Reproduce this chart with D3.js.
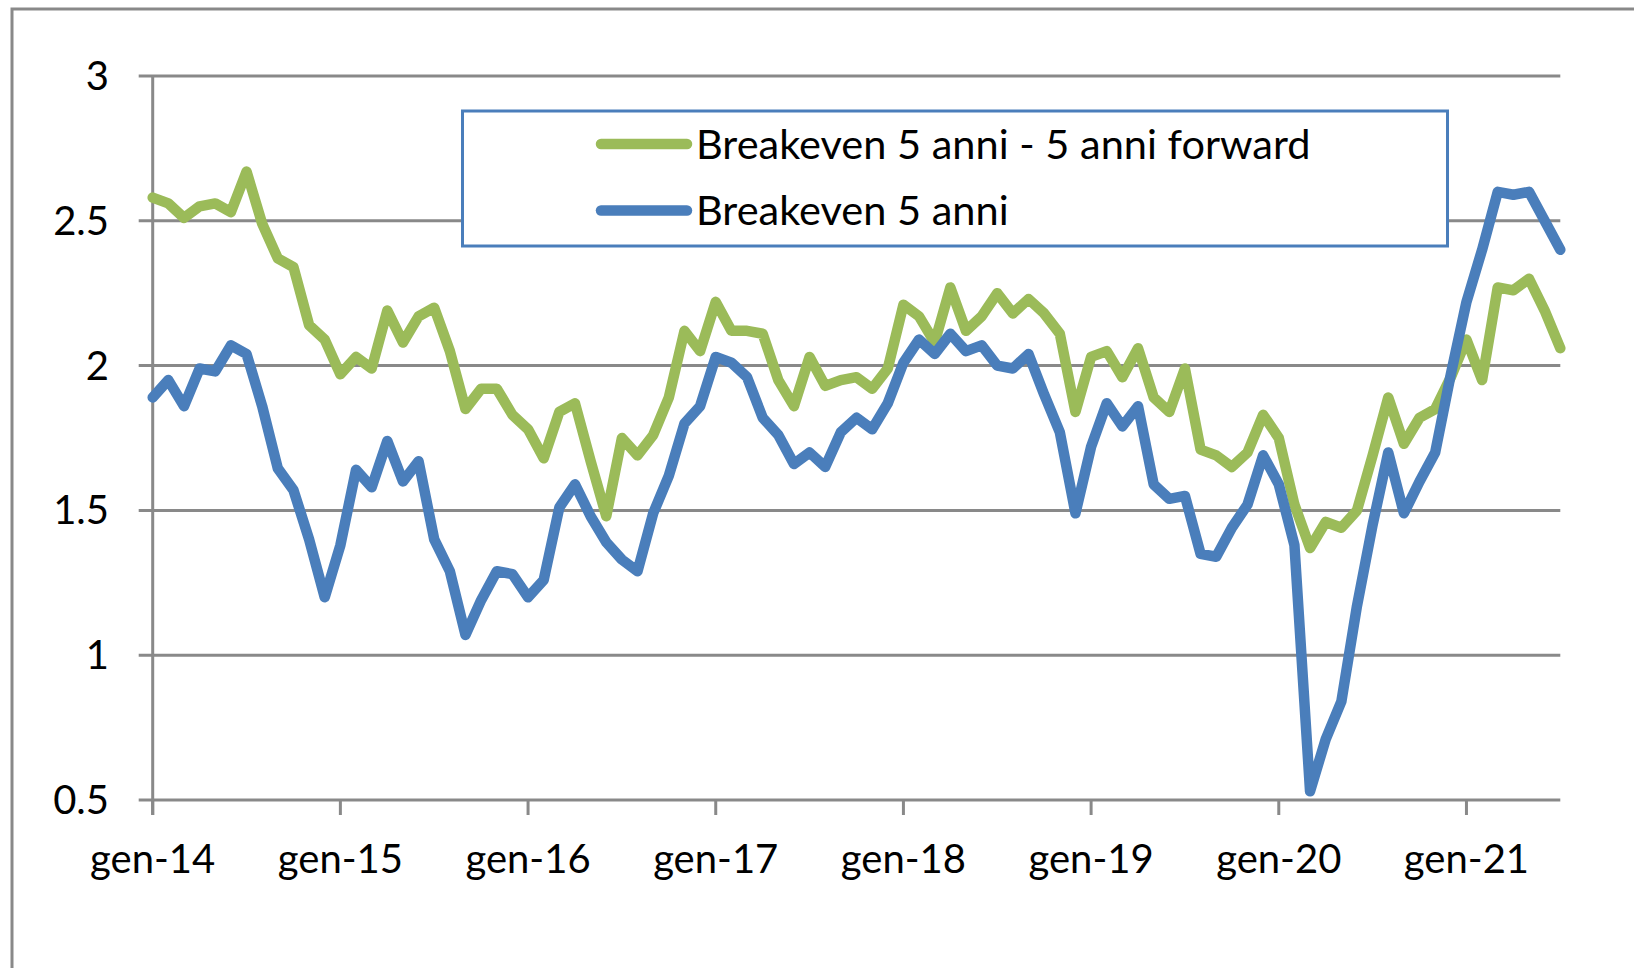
<!DOCTYPE html>
<html>
<head>
<meta charset="utf-8">
<script src="https://cdn.jsdelivr.net/npm/d3@7"></script>
<style>
  html, body { margin: 0; padding: 0; background: #fff; }
  svg { display: block; }
  text { font-family: Lato, "Open Sans", sans-serif; fill: #000; }
</style>
</head>
<body>
<svg id="chart" width="1634" height="968"></svg>
<script>
// ---- data ----
const startMonth = new Date(2014, 0, 1);   // gen-14
const endMonth = new Date(2021, 6, 1);     // lug-21
const months = d3.timeMonth.range(startMonth, d3.timeMonth.offset(endMonth, 1));

const seriesNames = ["Breakeven 5 anni - 5 anni forward", "Breakeven 5 anni"];
const seriesColors = ["#9BBB59", "#4A7EBB"];

const forward5y5y = [
  2.58, 2.56, 2.51, 2.55, 2.56, 2.53, 2.67, 2.49, 2.37, 2.34, 2.14, 2.09,
  1.97, 2.03, 1.99, 2.19, 2.08, 2.17, 2.20, 2.05, 1.85, 1.92, 1.92, 1.83,
  1.78, 1.68, 1.84, 1.87, 1.67, 1.48, 1.75, 1.69, 1.76, 1.89, 2.12, 2.05,
  2.22, 2.12, 2.12, 2.11, 1.95, 1.86, 2.03, 1.93, 1.95, 1.96, 1.92, 1.99,
  2.21, 2.17, 2.08, 2.27, 2.12, 2.17, 2.25, 2.18, 2.23, 2.18, 2.11, 1.84,
  2.03, 2.05, 1.96, 2.06, 1.89, 1.84, 1.99, 1.71, 1.69, 1.65, 1.70, 1.83,
  1.75, 1.52, 1.37, 1.46, 1.44, 1.50, 1.69, 1.89, 1.73, 1.82, 1.85, 1.96,
  2.09, 1.95, 2.27, 2.26, 2.30, 2.19, 2.06
];

const breakeven5y = [
  1.89, 1.95, 1.86, 1.99, 1.98, 2.07, 2.04, 1.86, 1.645, 1.57, 1.40, 1.20,
  1.38, 1.64, 1.58, 1.74, 1.60, 1.67, 1.40, 1.29, 1.07, 1.19, 1.29, 1.28,
  1.20, 1.26, 1.51, 1.59, 1.48, 1.39, 1.33, 1.29, 1.49, 1.62, 1.80, 1.86,
  2.03, 2.01, 1.96, 1.82, 1.76, 1.66, 1.70, 1.65, 1.77, 1.82, 1.78, 1.87,
  2.01, 2.09, 2.04, 2.11, 2.05, 2.07, 2.00, 1.99, 2.04, 1.90, 1.77, 1.49,
  1.72, 1.87, 1.79, 1.86, 1.59, 1.54, 1.55, 1.35, 1.34, 1.44, 1.52, 1.69,
  1.59, 1.38, 0.53, 0.71, 0.84, 1.17, 1.45, 1.70, 1.49, 1.60, 1.70, 1.97,
  2.22, 2.40, 2.60, 2.59, 2.60, 2.50, 2.40
];

const yTicks = [0.5, 1, 1.5, 2, 2.5, 3];
const yTickLabels = ["0.5", "1", "1.5", "2", "2.5", "3"];
const xTickDates = [2014, 2015, 2016, 2017, 2018, 2019, 2020, 2021].map(y => new Date(y, 0, 1));
const xTickLabels = ["gen-14", "gen-15", "gen-16", "gen-17", "gen-18", "gen-19", "gen-20", "gen-21"];

// ---- layout ----
const svg = d3.select("#chart");
const plotLeft = 152.7, plotRight = 1560.3, plotTop = 76, plotBottom = 800;
const gridColor = "#898989";

// month index scale (Excel-style evenly spaced months)
const monthIndex = d => (d.getFullYear() - startMonth.getFullYear()) * 12 + d.getMonth() - startMonth.getMonth();
const x = d3.scaleLinear().domain([0, months.length - 1]).range([plotLeft, plotRight]);
const y = d3.scaleLinear().domain([0.5, 3]).range([plotBottom, plotTop]);

// outer chart border
svg.append("rect")
  .attr("x", 12).attr("y", 9).attr("width", 1800).attr("height", 1200)
  .attr("fill", "none").attr("stroke", gridColor).attr("stroke-width", 3);

// horizontal gridlines (with outside ticks)
svg.append("g").selectAll("line").data(yTicks).join("line")
  .attr("x1", plotLeft - 14).attr("x2", plotRight)
  .attr("y1", d => y(d)).attr("y2", d => y(d))
  .attr("stroke", gridColor).attr("stroke-width", 3);

// y axis line
svg.append("line")
  .attr("x1", plotLeft).attr("x2", plotLeft)
  .attr("y1", plotTop).attr("y2", plotBottom + 15)
  .attr("stroke", gridColor).attr("stroke-width", 3);

// x ticks
svg.append("g").selectAll("line").data(xTickDates).join("line")
  .attr("x1", d => x(monthIndex(d))).attr("x2", d => x(monthIndex(d)))
  .attr("y1", plotBottom).attr("y2", plotBottom + 15)
  .attr("stroke", gridColor).attr("stroke-width", 3);

// y labels
svg.append("g").selectAll("text").data(yTicks).join("text")
  .attr("x", 109).attr("y", d => y(d))
  .attr("dy", "0.35em")
  .attr("text-anchor", "end")
  .attr("font-size", 40)
  .text((d, i) => yTickLabels[i]);

// x labels
svg.append("g").selectAll("text").data(xTickDates).join("text")
  .attr("x", d => x(monthIndex(d))).attr("y", 873)
  .attr("text-anchor", "middle")
  .attr("font-size", 40)
  .text((d, i) => xTickLabels[i]);

// series lines
const series = [forward5y5y, breakeven5y];
const line = d3.line().x((d, i) => x(i)).y(d => y(d));
series.forEach((vals, s) => {
  svg.append("path")
    .datum(vals)
    .attr("d", line)
    .attr("fill", "none")
    .attr("stroke", seriesColors[s])
    .attr("stroke-width", 10.5)
    .attr("stroke-linejoin", "round")
    .attr("stroke-linecap", "round");
});

// legend
const lg = svg.append("g");
lg.append("rect")
  .attr("x", 462.5).attr("y", 111).attr("width", 985).attr("height", 135)
  .attr("fill", "#fff").attr("stroke", "#4A7EBB").attr("stroke-width", 3);
const legendY = [144, 210.5];
seriesNames.forEach((name, s) => {
  lg.append("line")
    .attr("x1", 601).attr("x2", 687)
    .attr("y1", legendY[s]).attr("y2", legendY[s])
    .attr("stroke", seriesColors[s]).attr("stroke-width", 10.5)
    .attr("stroke-linecap", "round");
  lg.append("text")
    .attr("x", 696).attr("y", legendY[s]).attr("dy", "0.35em")
    .attr("font-size", 41.5)
    .text(name);
});
</script>
</body>
</html>
